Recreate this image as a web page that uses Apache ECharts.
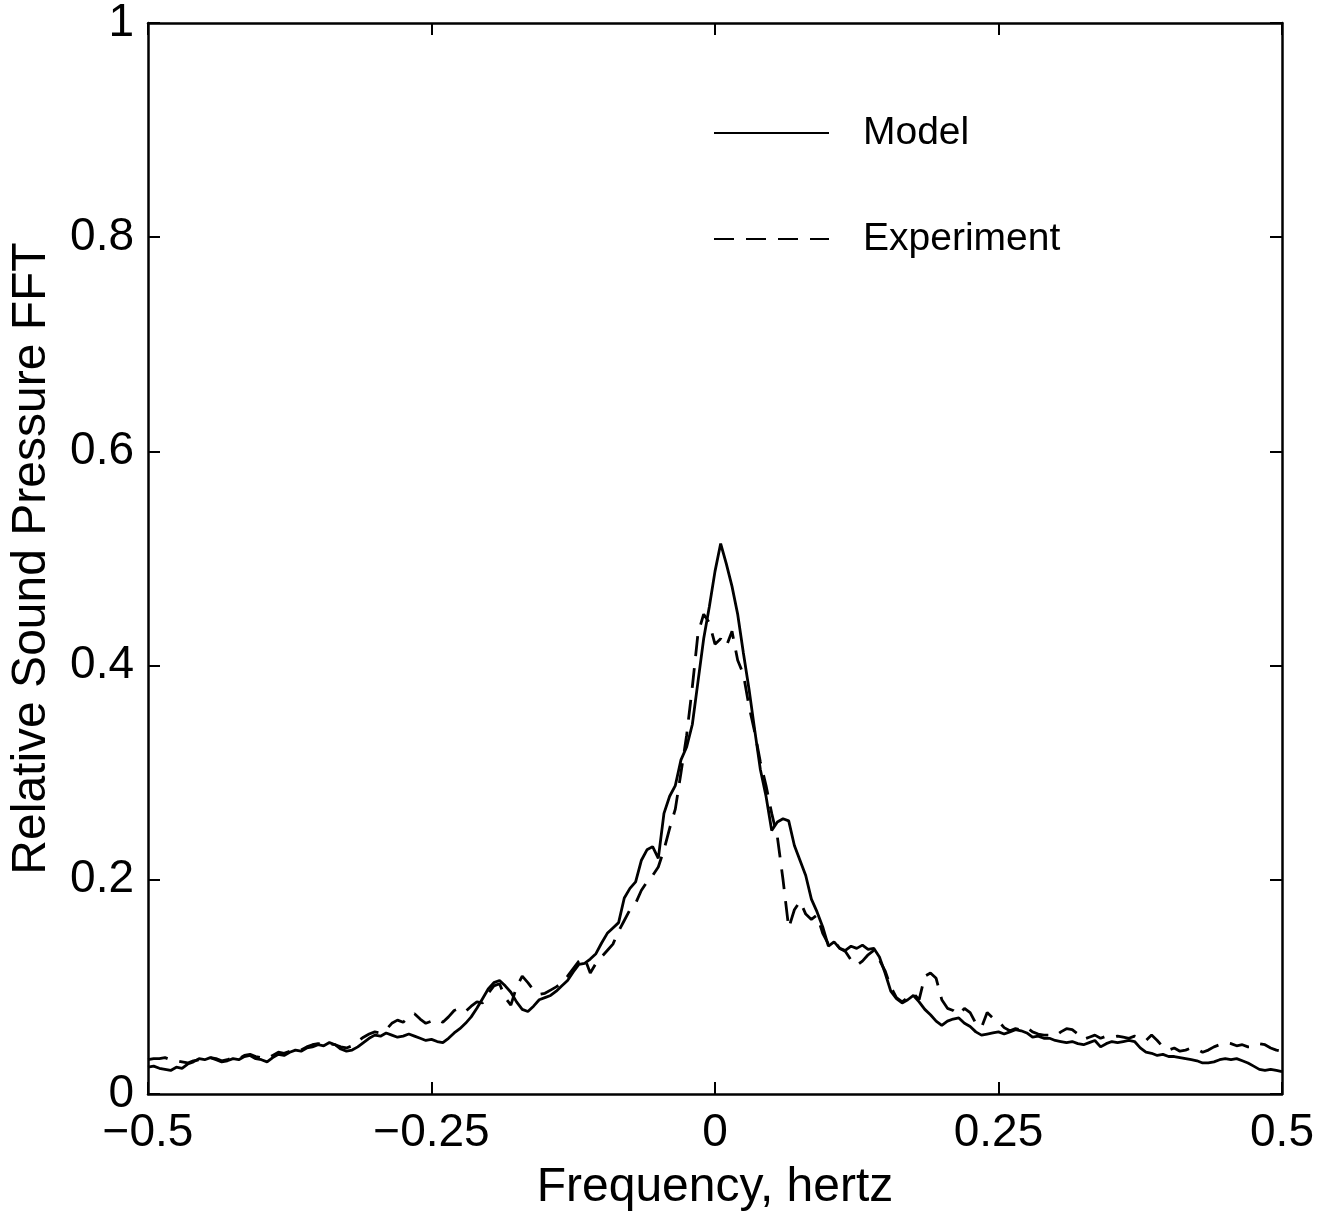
<!DOCTYPE html>
<html>
<head>
<meta charset="utf-8">
<script src="https://cdn.jsdelivr.net/npm/echarts@6/dist/echarts.min.js"></script>
<style>
html,body{margin:0;padding:0;background:#fff;}
#c{width:1329px;height:1220px;}
</style>
</head>
<body>
<div id="c"></div>
<script>
const freq = [
-0.500,-0.495,-0.490,-0.485,-0.480,-0.475,-0.470,-0.465,-0.460,-0.455,
-0.450,-0.445,-0.440,-0.435,-0.430,-0.425,-0.420,-0.415,-0.410,-0.405,
-0.400,-0.395,-0.390,-0.385,-0.380,-0.375,-0.370,-0.365,-0.360,-0.355,
-0.350,-0.345,-0.340,-0.335,-0.330,-0.325,-0.320,-0.315,-0.310,-0.305,
-0.300,-0.295,-0.290,-0.285,-0.280,-0.275,-0.270,-0.265,-0.260,-0.255,
-0.250,-0.245,-0.240,-0.235,-0.230,-0.225,-0.220,-0.215,-0.210,-0.205,
-0.200,-0.195,-0.190,-0.185,-0.180,-0.175,-0.170,-0.165,-0.160,-0.155,
-0.150,-0.145,-0.140,-0.135,-0.130,-0.125,-0.120,-0.115,-0.110,-0.105,
-0.100,-0.095,-0.090,-0.085,-0.080,-0.075,-0.070,-0.065,-0.060,-0.055,
-0.050,-0.045,-0.040,-0.035,-0.030,-0.025,-0.020,-0.015,-0.010,-0.005,
0.000,0.005,0.010,0.015,0.020,0.025,0.030,0.035,0.040,0.045,
0.050,0.055,0.060,0.065,0.070,0.075,0.080,0.085,0.090,0.095,
0.100,0.105,0.110,0.115,0.120,0.125,0.130,0.135,0.140,0.145,
0.150,0.155,0.160,0.165,0.170,0.175,0.180,0.185,0.190,0.195,
0.200,0.205,0.210,0.215,0.220,0.225,0.230,0.235,0.240,0.245,
0.250,0.255,0.260,0.265,0.270,0.275,0.280,0.285,0.290,0.295,
0.300,0.305,0.310,0.315,0.320,0.325,0.330,0.335,0.340,0.345,
0.350,0.355,0.360,0.365,0.370,0.375,0.380,0.385,0.390,0.395,
0.400,0.405,0.410,0.415,0.420,0.425,0.430,0.435,0.440,0.445,
0.450,0.455,0.460,0.465,0.470,0.475,0.480,0.485,0.490,0.495,
0.500
];

const model = [
0.025,0.026,0.024,0.023,0.022,0.025,0.024,0.028,0.030,0.033,
0.032,0.034,0.032,0.030,0.031,0.033,0.032,0.035,0.036,0.033,
0.032,0.030,0.034,0.037,0.036,0.039,0.041,0.040,0.043,0.044,
0.046,0.045,0.048,0.046,0.042,0.040,0.041,0.044,0.048,0.052,
0.055,0.054,0.057,0.055,0.053,0.054,0.056,0.054,0.052,0.050,
0.051,0.049,0.048,0.052,0.057,0.061,0.066,0.072,0.080,0.089,
0.098,0.104,0.106,0.101,0.095,0.086,0.079,0.077,0.082,0.088,
0.090,0.092,0.096,0.101,0.106,0.114,0.121,0.122,0.126,0.131,
0.141,0.150,0.155,0.160,0.183,0.192,0.198,0.218,0.228,0.231,
0.220,0.262,0.278,0.288,0.312,0.324,0.345,0.385,0.425,0.455,
0.488,0.514,0.495,0.474,0.448,0.412,0.378,0.340,0.303,0.278,
0.246,0.254,0.257,0.255,0.232,0.218,0.204,0.182,0.170,0.156,
0.138,0.142,0.136,0.134,0.138,0.136,0.139,0.135,0.136,0.128,
0.113,0.096,0.089,0.085,0.088,0.092,0.086,0.079,0.074,0.068,
0.064,0.068,0.070,0.071,0.066,0.063,0.058,0.055,0.056,0.057,
0.058,0.056,0.058,0.060,0.059,0.057,0.053,0.054,0.052,0.052,
0.050,0.049,0.048,0.049,0.047,0.046,0.048,0.050,0.044,0.047,
0.049,0.048,0.049,0.050,0.049,0.043,0.039,0.038,0.036,0.037,
0.035,0.035,0.034,0.033,0.032,0.031,0.029,0.029,0.030,0.032,
0.033,0.032,0.033,0.031,0.029,0.026,0.023,0.022,0.023,0.022,
0.021
];

const experiment = [
0.032,0.033,0.033,0.034,0.032,0.031,0.030,0.029,0.031,0.032,
0.033,0.034,0.033,0.031,0.032,0.034,0.033,0.036,0.037,0.035,
0.034,0.033,0.036,0.039,0.038,0.040,0.042,0.041,0.044,0.046,
0.047,0.046,0.047,0.046,0.044,0.043,0.045,0.049,0.053,0.056,
0.058,0.057,0.060,0.066,0.069,0.067,0.072,0.075,0.070,0.066,
0.068,0.070,0.067,0.072,0.078,0.080,0.077,0.082,0.086,0.085,
0.094,0.101,0.103,0.090,0.083,0.100,0.110,0.104,0.097,0.093,
0.094,0.097,0.100,0.104,0.110,0.117,0.124,0.127,0.113,0.122,
0.128,0.134,0.140,0.152,0.162,0.172,0.178,0.190,0.198,0.204,
0.212,0.228,0.248,0.266,0.300,0.335,0.380,0.430,0.448,0.440,
0.420,0.425,0.418,0.432,0.405,0.392,0.362,0.338,0.310,0.288,
0.262,0.240,0.200,0.155,0.172,0.180,0.168,0.163,0.167,0.150,
0.140,0.143,0.136,0.133,0.125,0.120,0.124,0.130,0.134,0.125,
0.115,0.100,0.090,0.086,0.090,0.094,0.088,0.110,0.113,0.108,
0.088,0.080,0.078,0.074,0.080,0.076,0.066,0.062,0.076,0.071,
0.068,0.062,0.059,0.061,0.060,0.062,0.058,0.056,0.055,0.055,
0.054,0.058,0.061,0.060,0.056,0.051,0.053,0.055,0.052,0.054,
0.053,0.054,0.053,0.052,0.054,0.052,0.050,0.055,0.050,0.044,
0.041,0.043,0.040,0.041,0.043,0.042,0.039,0.041,0.044,0.046,
0.048,0.047,0.045,0.046,0.044,0.044,0.047,0.046,0.043,0.041,
0.040
];

const seriesNames = ['Model', 'Experiment'];
const xTicks = { min: -0.5, max: 0.5, interval: 0.25 };
const yTicks = { min: 0, max: 1, interval: 0.2 };
const xTitle = 'Frequency, hertz';
const yTitle = 'Relative Sound Pressure FFT';

const FONT = '"Liberation Sans", Arial, Helvetica, sans-serif';
const fmt = v => {
  if (Math.abs(v) < 1e-9) return '0';
  const s = String(Math.round(v * 1000) / 1000);
  return s.replace('-', '\u2212');
};

const pairs = arr => freq.map((f, i) => [f, arr[i]]);

const axisLine = { show: true, onZero: false, lineStyle: { color: '#000', width: 2.5 } };
const tick = { show: true, inside: true, length: 12, lineStyle: { color: '#000', width: 2 } };

const chart = echarts.init(document.getElementById('c'), null, { renderer: 'canvas' });
chart.setOption({
  backgroundColor: '#fff',
  animation: false,
  grid: { left: 147, right: 47, top: 23, bottom: 126, containLabel: false },
  legend: {
    orient: 'vertical',
    left: 713,
    top: 111,
    padding: 0,
    itemWidth: 115,
    itemHeight: 14,
    itemGap: 62,
    data: seriesNames,
    itemStyle: { opacity: 0 },
    textStyle: { fontFamily: FONT, fontSize: 39, color: '#000', padding: [0, 0, 0, 29], lineHeight: 44 }
  },
  xAxis: [
    {
      type: 'value', min: xTicks.min, max: xTicks.max, interval: xTicks.interval,
      name: xTitle, nameLocation: 'middle', nameGap: 70,
      nameTextStyle: { fontFamily: FONT, fontSize: 48, color: '#000' },
      axisLine: axisLine, axisTick: tick, splitLine: { show: false },
      axisLabel: { formatter: fmt, fontFamily: FONT, fontSize: 46, color: '#000', margin: 16 }
    },
    {
      type: 'value', position: 'top', min: xTicks.min, max: xTicks.max, interval: xTicks.interval,
      axisLine: axisLine, axisTick: tick, splitLine: { show: false }, axisLabel: { show: false }
    }
  ],
  yAxis: [
    {
      type: 'value', min: yTicks.min, max: yTicks.max, interval: yTicks.interval,
      name: yTitle, nameLocation: 'middle', nameGap: 92, nameRotate: 90,
      nameTextStyle: { fontFamily: FONT, fontSize: 48, color: '#000' },
      axisLine: axisLine, axisTick: tick, splitLine: { show: false },
      axisLabel: { formatter: fmt, fontFamily: FONT, fontSize: 46, color: '#000', margin: 14 }
    },
    {
      type: 'value', position: 'right', min: yTicks.min, max: yTicks.max, interval: yTicks.interval,
      axisLine: axisLine, axisTick: tick, splitLine: { show: false }, axisLabel: { show: false }
    }
  ],
  series: [
    {
      name: seriesNames[0], type: 'line', data: pairs(model), showSymbol: false, symbol: 'none',
      lineStyle: { color: '#000', width: 2.8, type: 'solid' }, itemStyle: { color: '#000' }
    },
    {
      name: seriesNames[1], type: 'line', data: pairs(experiment), showSymbol: false, symbol: 'none',
      lineStyle: { color: '#000', width: 2.8, type: [20, 12] }, itemStyle: { color: '#000' }
    }
  ]
});
</script>
</body>
</html>
